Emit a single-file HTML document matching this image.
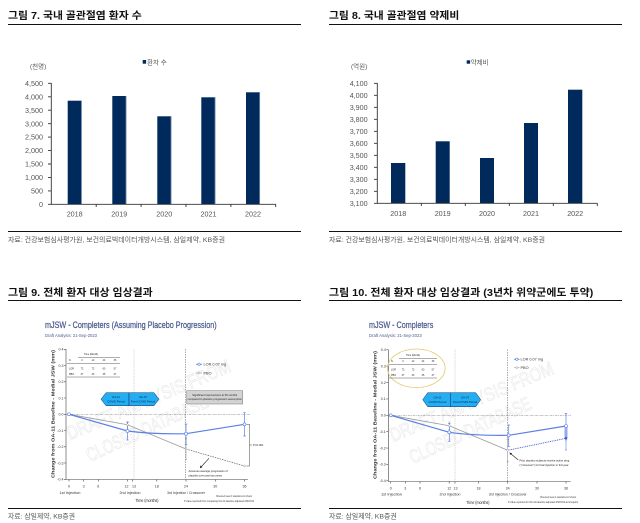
<!DOCTYPE html>
<html><head><meta charset="utf-8">
<style>
html,body{margin:0;padding:0;background:#fff;}
svg{display:block;}
.k{font-family:"Liberation Sans","Noto Sans CJK KR",sans-serif;}
.l{font-family:"Liberation Sans",sans-serif;}
</style></head>
<body>
<svg width="640" height="523" viewBox="0 0 640 523" xmlns="http://www.w3.org/2000/svg">
<rect width="640" height="523" fill="#fff"/>

<!-- ===== Titles ===== -->
<g class="k" font-weight="bold" font-size="10.3" fill="#111">
<text x="8" y="19" textLength="133.7" lengthAdjust="spacingAndGlyphs">그림 7. 국내 골관절염 환자 수</text>
<text x="329" y="19" textLength="130.3" lengthAdjust="spacingAndGlyphs">그림 8. 국내 골관절염 약제비</text>
<text x="8" y="296" textLength="144.7" lengthAdjust="spacingAndGlyphs">그림 9. 전체 환자 대상 임상결과</text>
<text x="329" y="296" textLength="264.3" lengthAdjust="spacingAndGlyphs">그림 10. 전체 환자 대상 임상결과 (3년차 위약군에도 투약)</text>
</g>
<g stroke="#111" stroke-width="1">
<line x1="8" y1="24.5" x2="301" y2="24.5"/>
<line x1="329" y1="24.5" x2="622" y2="24.5"/>
<line x1="8" y1="231.5" x2="301" y2="231.5"/>
<line x1="329" y1="231.5" x2="622" y2="231.5"/>
<line x1="8" y1="300.5" x2="301" y2="300.5"/>
<line x1="329" y1="300.5" x2="622" y2="300.5"/>
<line x1="8" y1="508.5" x2="301" y2="508.5"/>
<line x1="329" y1="508.5" x2="622" y2="508.5"/>
</g>
<g class="k" font-size="6.8" fill="#555">
<text x="8" y="242" textLength="217" lengthAdjust="spacingAndGlyphs">자료: 건강보험심사평가원, 보건의료빅데이터개방시스템, 삼일제약, KB증권</text>
<text x="329" y="242" textLength="216" lengthAdjust="spacingAndGlyphs">자료: 건강보험심사평가원, 보건의료빅데이터개방시스템, 삼일제약, KB증권</text>
<text x="8" y="518.5" textLength="67" lengthAdjust="spacingAndGlyphs">자료: 삼일제약, KB증권</text>
<text x="329" y="518.5" textLength="67.7" lengthAdjust="spacingAndGlyphs">자료: 삼일제약, KB증권</text>
</g>

<!-- ===== Chart 7 ===== -->
<g>
<text class="k" x="30" y="68.3" font-size="6.5" fill="#555">(천명)</text>
<rect x="142.7" y="60" width="3.4" height="3.7" fill="#002a5c"/>
<text class="k" x="147" y="64.6" font-size="6.5" fill="#555">환자 수</text>
<g class="l" font-size="7.2" fill="#555" text-anchor="end">
<text x="43" y="85.9">4,500</text>
<text x="43" y="99.4">4,000</text>
<text x="43" y="112.8">3,500</text>
<text x="43" y="126.3">3,000</text>
<text x="43" y="139.7">2,500</text>
<text x="43" y="153.2">2,000</text>
<text x="43" y="166.6">1,500</text>
<text x="43" y="180">1,000</text>
<text x="43" y="193.5">500</text>
<text x="43" y="206.9">0</text>
</g>
<g fill="#002a5c">
<rect x="67.7" y="100.7" width="14" height="103.6"/>
<rect x="112.3" y="96" width="14" height="108.3"/>
<rect x="157.3" y="116.3" width="14" height="88"/>
<rect x="201.3" y="97.3" width="14" height="107"/>
<rect x="246" y="92.3" width="14" height="112"/>
</g>
<g stroke="#7f95b3" stroke-width="0.7">
<line x1="81.4" y1="101" x2="81.4" y2="204"/>
<line x1="126" y1="96.3" x2="126" y2="204"/>
<line x1="171" y1="116.6" x2="171" y2="204"/>
<line x1="215" y1="97.6" x2="215" y2="204"/>
<line x1="259.7" y1="92.6" x2="259.7" y2="204"/>
</g>
<g stroke="#333" stroke-width="0.9">
<line x1="51.3" y1="83" x2="51.3" y2="204.5"/>
<line x1="51" y1="204.3" x2="276" y2="204.3"/>
<path d="M48 83.3H51.3M48 96.8H51.3M48 110.2H51.3M48 123.7H51.3M48 137.1H51.3M48 150.6H51.3M48 164H51.3M48 177.4H51.3M48 190.9H51.3M48 204.3H51.3"/>
<path d="M96.2 204.3V207M141.1 204.3V207M186 204.3V207M230.9 204.3V207M275.7 204.3V207"/>
</g>
<g class="l" font-size="7.2" fill="#555" text-anchor="middle">
<text x="74.7" y="216.6">2018</text>
<text x="119.3" y="216.6">2019</text>
<text x="164.3" y="216.6">2020</text>
<text x="208.5" y="216.6">2021</text>
<text x="253" y="216.6">2022</text>
</g>
</g>

<!-- ===== Chart 8 ===== -->
<g>
<text class="k" x="351" y="68.3" font-size="6.5" fill="#555">(억원)</text>
<rect x="466.7" y="60.3" width="3.4" height="3.4" fill="#002a5c"/>
<text class="k" x="470.8" y="64.6" font-size="6.4" fill="#555">약제비</text>
<g class="l" font-size="7.2" fill="#555" text-anchor="end">
<text x="367.7" y="85.9">4,100</text>
<text x="367.7" y="97.9">4,000</text>
<text x="367.7" y="109.9">3,900</text>
<text x="367.7" y="121.9">3,800</text>
<text x="367.7" y="133.9">3,700</text>
<text x="367.7" y="145.9">3,600</text>
<text x="367.7" y="157.9">3,500</text>
<text x="367.7" y="169.9">3,400</text>
<text x="367.7" y="181.9">3,300</text>
<text x="367.7" y="193.9">3,200</text>
<text x="367.7" y="205.9">3,100</text>
</g>
<g fill="#002a5c">
<rect x="391" y="163" width="14.3" height="40.3"/>
<rect x="435.7" y="141.3" width="14" height="62"/>
<rect x="480" y="158" width="14" height="45.3"/>
<rect x="524" y="123" width="14" height="80.3"/>
<rect x="568" y="89.7" width="14.3" height="113.6"/>
</g>
<g stroke="#333" stroke-width="0.9">
<line x1="377.3" y1="83" x2="377.3" y2="203.6"/>
<line x1="377" y1="203.3" x2="597.5" y2="203.3"/>
<path d="M374 83.3H377.3M374 95.3H377.3M374 107.3H377.3M374 119.3H377.3M374 131.3H377.3M374 143.3H377.3M374 155.3H377.3M374 167.3H377.3M374 179.3H377.3M374 191.3H377.3M374 203.3H377.3"/>
<path d="M421.3 203.3V206M465.3 203.3V206M509.3 203.3V206M553.3 203.3V206M597.3 203.3V206"/>
</g>
<g class="l" font-size="7.2" fill="#555" text-anchor="middle">
<text x="398.3" y="216">2018</text>
<text x="442.7" y="216">2019</text>
<text x="487" y="216">2020</text>
<text x="531" y="216">2021</text>
<text x="575.2" y="216">2022</text>
</g>
</g>

<!-- ===== Chart 9 (clinical, left) ===== -->
<g class="l">
<g fill="none" stroke="#e2e2e2" stroke-width="0.5" font-size="19">
<text x="0" y="0" transform="translate(70,440) rotate(-23)" textLength="176" lengthAdjust="spacingAndGlyphs">DRAFT ANALYSIS FROM</text>
<text x="0" y="0" transform="translate(90,462) rotate(-25)" textLength="132" lengthAdjust="spacingAndGlyphs">CLOSED DATABASE</text>
</g>
<text x="45" y="328" font-size="9.5" fill="#4b5a8e" stroke="#4b5a8e" stroke-width="0.25" textLength="171.7" lengthAdjust="spacingAndGlyphs">mJSW - Completers (Assuming Placebo Progression)</text>
<text x="45" y="337" font-size="4.5" fill="#4b5a8e" textLength="52" lengthAdjust="spacingAndGlyphs">Draft Analysis: 21-Sep-2023</text>
<g stroke="#444" stroke-width="0.6">
<line x1="66" y1="349" x2="66" y2="479.5"/>
<line x1="66" y1="479.5" x2="248" y2="479.5"/>
<path d="M64 349.3H66M64 365.5H66M64 381.8H66M64 398H66M64 414.3H66M64 430.5H66M64 446.8H66M64 463H66M64 479.3H66"/>
<path d="M69 479.5V481.5M83.6 479.5V481.5M98.3 479.5V481.5M127.5 479.5V481.5M132.4 479.5V481.5M156.8 479.5V481.5M186 479.5V481.5M215.3 479.5V481.5M244.5 479.5V481.5"/>
</g>
<g font-size="3.6" fill="#333" text-anchor="end">
<text x="63.5" y="350.6">0.4</text><text x="63.5" y="366.8">0.3</text><text x="63.5" y="383.1">0.2</text>
<text x="63.5" y="399.3">0.1</text><text x="63.5" y="415.6">0.0</text><text x="63.5" y="431.8">-0.1</text>
<text x="63.5" y="448.1">-0.2</text><text x="63.5" y="464.3">-0.3</text><text x="63.5" y="480.6">-0.4</text>
</g>
<text x="0" y="0" transform="translate(54.5,478) rotate(-90)" font-size="4.6" font-weight="bold" fill="#333" textLength="128" lengthAdjust="spacingAndGlyphs">Change from OA-11 Baseline - Medial JSW (mm)</text>
<g font-size="3.6" fill="#333" text-anchor="middle">
<text x="69" y="487.5">0</text><text x="83.6" y="487.5">3</text><text x="98.3" y="487.5">6</text>
<text x="126.5" y="487.5">12</text><text x="134" y="487.5">13</text><text x="156.8" y="487.5">18</text>
<text x="186" y="487.5">24</text><text x="215.3" y="487.5">30</text><text x="244.5" y="487.5">36</text>
<text x="70" y="494" textLength="21" lengthAdjust="spacingAndGlyphs">1st Injection</text>
<text x="130" y="494" textLength="21" lengthAdjust="spacingAndGlyphs">2nd Injection</text>
<text x="186" y="494" textLength="38" lengthAdjust="spacingAndGlyphs">3rd Injection / Crossover</text>
</g>
<text x="147" y="502" font-size="4.6" fill="#222" text-anchor="middle" textLength="23" lengthAdjust="spacingAndGlyphs">Time (months)</text>
<g font-size="2.4" fill="#333" text-anchor="end">
<text x="252" y="497" textLength="36" lengthAdjust="spacingAndGlyphs">Observed mean ± standard error shown</text>
<text x="254" y="502" textLength="70" lengthAdjust="spacingAndGlyphs">P value reported from comparing OA-11 baseline adjusted ANCOVA</text>
</g>
<line x1="134" y1="349" x2="134" y2="479" stroke="#999" stroke-width="0.5" stroke-dasharray="0.8,1"/>
<line x1="185.5" y1="349" x2="185.5" y2="479" stroke="#555" stroke-width="0.5" stroke-dasharray="1.5,1"/>
<line x1="66" y1="414.3" x2="250" y2="414.3" stroke="#888" stroke-width="0.5" stroke-dasharray="2.5,0.8,0.8,0.8"/>
<g font-size="2.4" fill="#222" text-anchor="middle">
<text x="91" y="355.2">Time (Month)</text>
<text x="69" y="361.2" text-anchor="start">N</text><text x="82" y="361.2">0</text><text x="93" y="361.2">12</text><text x="104" y="361.2">24</text><text x="115" y="361.2">36</text>
<text x="69" y="369.5" text-anchor="start">LOR</text><text x="82" y="369.5">72</text><text x="93" y="369.5">72</text><text x="104" y="369.5">60</text><text x="115" y="369.5">57</text>
<text x="69" y="375.2" text-anchor="start">PBO</text><text x="82" y="375.2">37</text><text x="93" y="375.2">33</text><text x="104" y="375.2">35</text><text x="115" y="375.2">37</text>
</g>
<g stroke="#333" stroke-width="0.4">
<line x1="78" y1="357.3" x2="120" y2="357.3"/>
<line x1="67" y1="363.7" x2="120" y2="363.7"/>
<line x1="67" y1="377" x2="120" y2="377"/>
</g>
<line x1="196" y1="364.3" x2="202" y2="364.3" stroke="#5b7fe6" stroke-width="0.8"/>
<circle cx="199" cy="364.3" r="1.2" fill="#fff" stroke="#5b7fe6" stroke-width="0.6"/>
<text x="203.5" y="365.6" font-size="3.8" fill="#333">LOR 0.07 mg</text>
<line x1="196" y1="373" x2="202" y2="373" stroke="#999" stroke-width="0.6"/>
<path d="M199 371.8L200.2 373L199 374.2L197.8 373Z" fill="#fff" stroke="#888" stroke-width="0.5"/>
<text x="203.5" y="374.3" font-size="3.8" fill="#333">PBO</text>
<rect x="186.7" y="390.7" width="56" height="13.3" fill="#d3d3d3" stroke="#777" stroke-width="0.5"/>
<g font-size="2.7" fill="#222" text-anchor="middle">
<text x="214.7" y="396">Significant improvement at 36 months</text>
<text x="214.7" y="400">compared to placebo progression assumption</text>
</g>
<path d="M101 399.2L106 392.7H129V405.7H106Z" fill="#22aef0" stroke="#1d2f6a" stroke-width="0.5"/>
<path d="M129 392.7H154L159 399.2L154 405.7H129Z" fill="#22aef0" stroke="#1d2f6a" stroke-width="0.5"/>
<g font-size="2.8" fill="#0d2050" text-anchor="middle">
<text x="116" y="398">OA-11</text><text x="116" y="402.5">COVID Period</text>
<text x="143" y="398">OA-07</text><text x="143" y="402.5">Post-COVID Period</text>
</g>
<g stroke="#999" stroke-width="0.6">
<line x1="127.5" y1="421.7" x2="127.5" y2="429"/>
<line x1="186" y1="438.3" x2="186" y2="459.3"/>
<path d="M126.5 421.7H128.5M126.5 429H128.5M185 438.3H187M185 459.3H187"/>
</g>
<polyline points="69,414.3 127.5,424.7 186,449" fill="none" stroke="#9a9a9a" stroke-width="0.8"/>
<line x1="186" y1="449" x2="244.5" y2="466" stroke="#444" stroke-width="0.6" stroke-dasharray="1.5,1"/>
<g stroke="#5b7fe6" stroke-width="0.7">
<line x1="127.5" y1="422.7" x2="127.5" y2="440"/>
<line x1="186" y1="424" x2="186" y2="444.7"/>
<line x1="244.5" y1="412.7" x2="244.5" y2="436"/>
<path d="M126.3 422.7H128.7M126.3 440H128.7M184.8 424H187.2M184.8 444.7H187.2M243.3 412.7H245.7M243.3 436H245.7"/>
</g>
<path d="M69 414.3L127.5 431C150 434 170 434 186 433.7L244.5 424.3" fill="none" stroke="#5b7fe6" stroke-width="1.2"/>
<g fill="#fff" stroke="#5b7fe6" stroke-width="0.6">
<circle cx="69" cy="414.3" r="1.5"/><circle cx="127.5" cy="431" r="1.5"/>
<circle cx="186" cy="433.7" r="1.5"/><circle cx="244.5" cy="424.3" r="1.5"/>
</g>
<g fill="#fff" stroke="#888" stroke-width="0.5">
<path d="M127.5 423.5L128.7 424.7L127.5 425.9L126.3 424.7Z"/>
<path d="M186 447.8L187.2 449L186 450.2L184.8 449Z"/>
<path d="M244.5 464.8L245.7 466L244.5 467.2L243.3 466Z"/>
</g>
<path d="M246.5 424.3H249.5V466H246.5M249.5 445H252" fill="none" stroke="#444" stroke-width="0.5"/>
<text x="253" y="446" font-size="2.8" fill="#222">P=0.001</text>
<line x1="209" y1="458.3" x2="201" y2="467" stroke="#222" stroke-width="0.6"/>
<path d="M200 468.2L200.4 465.4L202.4 467.2Z" fill="#222"/>
<g font-size="2.7" fill="#222">
<text x="188.5" y="472">Assumes average progression of</text>
<text x="188.5" y="476.5">placebo over past two years</text>
</g>
</g>

<!-- ===== Chart 10 (clinical, right) ===== -->
<g class="l">
<g fill="none" stroke="#e2e2e2" stroke-width="0.5" font-size="19">
<text x="0" y="0" transform="translate(393,442) rotate(-23)" textLength="176" lengthAdjust="spacingAndGlyphs">DRAFT ANALYSIS FROM</text>
<text x="0" y="0" transform="translate(413,464) rotate(-25)" textLength="132" lengthAdjust="spacingAndGlyphs">CLOSED DATABASE</text>
</g>
<text x="369" y="328" font-size="9.5" fill="#4b5a8e" stroke="#4b5a8e" stroke-width="0.25" textLength="64.3" lengthAdjust="spacingAndGlyphs">mJSW - Completers</text>
<text x="369" y="337" font-size="4.5" fill="#4b5a8e" textLength="52.7" lengthAdjust="spacingAndGlyphs">Draft Analysis: 21-Sep-2023</text>
<g stroke="#444" stroke-width="0.6">
<line x1="388.3" y1="349.5" x2="388.3" y2="481.5"/>
<line x1="388.3" y1="481.5" x2="570.7" y2="481.5"/>
<path d="M386.3 349.8H388.3M386.3 366.2H388.3M386.3 382.6H388.3M386.3 398.9H388.3M386.3 415.3H388.3M386.3 431.7H388.3M386.3 448.1H388.3M386.3 464.4H388.3M386.3 480.8H388.3"/>
<path d="M390.7 481.5V483.5M405.3 481.5V483.5M420 481.5V483.5M449.2 481.5V483.5M455 481.5V483.5M478.5 481.5V483.5M507.7 481.5V483.5M537 481.5V483.5M566 481.5V483.5"/>
</g>
<g font-size="3.6" fill="#333" text-anchor="end">
<text x="385.8" y="351.1">0.4</text><text x="385.8" y="367.5">0.3</text><text x="385.8" y="383.9">0.2</text>
<text x="385.8" y="400.2">0.1</text><text x="385.8" y="416.6">0.0</text><text x="385.8" y="433">-0.1</text>
<text x="385.8" y="449.4">-0.2</text><text x="385.8" y="465.7">-0.3</text><text x="385.8" y="482.1">-0.4</text>
</g>
<text x="0" y="0" transform="translate(376.5,479) rotate(-90)" font-size="4.6" font-weight="bold" fill="#333" textLength="128" lengthAdjust="spacingAndGlyphs">Change from OA-11 Baseline - Medial JSW (mm)</text>
<g font-size="3.6" fill="#333" text-anchor="middle">
<text x="390.7" y="489.5">0</text><text x="405.3" y="489.5">3</text><text x="420" y="489.5">6</text>
<text x="449.2" y="489.5">12</text><text x="455.5" y="489.5">13</text><text x="478.5" y="489.5">18</text>
<text x="507.7" y="489.5">24</text><text x="537" y="489.5">30</text><text x="566" y="489.5">36</text>
<text x="391.5" y="495.5" textLength="21" lengthAdjust="spacingAndGlyphs">1st Injection</text>
<text x="450" y="495.5" textLength="21" lengthAdjust="spacingAndGlyphs">2nd Injection</text>
<text x="507.7" y="495.5" textLength="38" lengthAdjust="spacingAndGlyphs">3rd Injection / Crossover</text>
</g>
<text x="478" y="504" font-size="4.6" fill="#222" text-anchor="middle" textLength="23" lengthAdjust="spacingAndGlyphs">Time (months)</text>
<g font-size="2.4" fill="#333" text-anchor="end">
<text x="576" y="498" textLength="36" lengthAdjust="spacingAndGlyphs">Observed mean ± standard error shown</text>
<text x="578" y="503" textLength="70" lengthAdjust="spacingAndGlyphs">P value reported for OA-11 baseline adjusted ANCOVA at timepoint</text>
</g>
<line x1="455" y1="349.5" x2="455" y2="481" stroke="#999" stroke-width="0.5" stroke-dasharray="0.8,1"/>
<line x1="507.7" y1="349.5" x2="507.7" y2="481" stroke="#555" stroke-width="0.5" stroke-dasharray="1.5,1"/>
<line x1="388.3" y1="415.3" x2="571" y2="415.3" stroke="#888" stroke-width="0.5" stroke-dasharray="2.5,0.8,0.8,0.8"/>
<ellipse cx="416.3" cy="368.3" rx="28.8" ry="19.3" fill="none" stroke="#e6c66a" stroke-width="0.8"/>
<g font-size="2.4" fill="#222" text-anchor="middle">
<text x="413" y="356.2">Time (Month)</text>
<text x="391" y="362.2" text-anchor="start">N</text><text x="403" y="362.2">0</text><text x="413" y="362.2">12</text><text x="423" y="362.2">24</text><text x="433" y="362.2">36</text>
<text x="391" y="370.5" text-anchor="start">LOR</text><text x="403" y="370.5">72</text><text x="413" y="370.5">72</text><text x="423" y="370.5">60</text><text x="433" y="370.5">57</text>
<text x="391" y="376.2" text-anchor="start">PBO</text><text x="403" y="376.2">37</text><text x="413" y="376.2">33</text><text x="423" y="376.2">35</text><text x="433" y="376.2">37</text>
</g>
<g stroke="#333" stroke-width="0.4">
<line x1="399" y1="358.3" x2="437" y2="358.3"/>
<line x1="389" y1="364.7" x2="437" y2="364.7"/>
<line x1="389" y1="378" x2="437" y2="378"/>
</g>
<line x1="514" y1="359.3" x2="519.5" y2="359.3" stroke="#5b7fe6" stroke-width="0.8"/>
<circle cx="516.8" cy="359.3" r="1.2" fill="#fff" stroke="#5b7fe6" stroke-width="0.6"/>
<text x="520.5" y="360.6" font-size="3.8" fill="#333">LOR 0.07 mg</text>
<line x1="514" y1="367.7" x2="519.5" y2="367.7" stroke="#999" stroke-width="0.6"/>
<path d="M516.8 366.5L518 367.7L516.8 368.9L515.6 367.7Z" fill="#fff" stroke="#888" stroke-width="0.5"/>
<text x="520.5" y="369" font-size="3.8" fill="#333">PBO</text>
<path d="M422.7 399.7L427.7 392.7H450.7V406.7H427.7Z" fill="#22aef0" stroke="#1d2f6a" stroke-width="0.5"/>
<path d="M450.7 392.7H475.7L480.7 399.7L475.7 406.7H450.7Z" fill="#22aef0" stroke="#1d2f6a" stroke-width="0.5"/>
<g font-size="2.8" fill="#0d2050" text-anchor="middle">
<text x="437.5" y="398.5">OA-11</text><text x="437.5" y="403">COVID Period</text>
<text x="465" y="398.5">OA-07</text><text x="465" y="403">Post-COVID Period</text>
</g>
<rect x="564.3" y="426" width="3.4" height="12.3" fill="#b9c8f2"/>
<g stroke="#999" stroke-width="0.6">
<line x1="449.3" y1="422" x2="449.3" y2="429.5"/>
<line x1="507.7" y1="439.3" x2="507.7" y2="461.7"/>
<path d="M448.3 422H450.3M448.3 429.5H450.3M506.7 439.3H508.7M506.7 461.7H508.7"/>
</g>
<polyline points="390.7,415.3 449.3,425.7 507.7,450.3" fill="none" stroke="#9a9a9a" stroke-width="0.8"/>
<line x1="507.7" y1="450.3" x2="566" y2="438.3" stroke="#3f5fd0" stroke-width="0.9" stroke-dasharray="1,0.8"/>
<g stroke="#5b7fe6" stroke-width="0.6">
<line x1="566" y1="430" x2="566" y2="450"/>
<path d="M565 450H567"/>
</g>
<rect x="564.9" y="437.2" width="2.2" height="2.2" fill="#2a45b0"/>
<g stroke="#5b7fe6" stroke-width="0.7">
<line x1="449.3" y1="423.3" x2="449.3" y2="441.3"/>
<line x1="508.7" y1="425" x2="508.7" y2="446.7"/>
<line x1="566" y1="413.3" x2="566" y2="441.3"/>
<path d="M448.1 423.3H450.5M448.1 441.3H450.5M507.5 425H509.9M507.5 446.7H509.9M564.8 413.3H567.2"/>
</g>
<path d="M390.7 415.3L449.3 432.3C472 435.5 492 435.5 508.7 435.3L566 426" fill="none" stroke="#5b7fe6" stroke-width="1.2"/>
<g fill="#fff" stroke="#5b7fe6" stroke-width="0.6">
<circle cx="390.7" cy="415.3" r="1.5"/><circle cx="449.3" cy="432.3" r="1.5"/>
<circle cx="508.7" cy="435.3" r="1.5"/><circle cx="566" cy="426" r="1.5"/>
</g>
<g fill="#fff" stroke="#888" stroke-width="0.5">
<path d="M449.3 424.5L450.5 425.7L449.3 426.9L448.1 425.7Z"/>
<path d="M507.7 449.1L508.9 450.3L507.7 451.5L506.5 450.3Z"/>
</g>
<line x1="518.3" y1="460" x2="510.5" y2="453.5" stroke="#222" stroke-width="0.6"/>
<path d="M509.3 452.6L512.1 453.1L510.6 455Z" fill="#222"/>
<g font-size="2.7" fill="#222">
<text x="519.5" y="461.5">Prior placebo subjects receive active drug</text>
<text x="519.5" y="466">("crossover") for final injection in 3rd year</text>
</g>
</g>
</svg>
</body></html>
